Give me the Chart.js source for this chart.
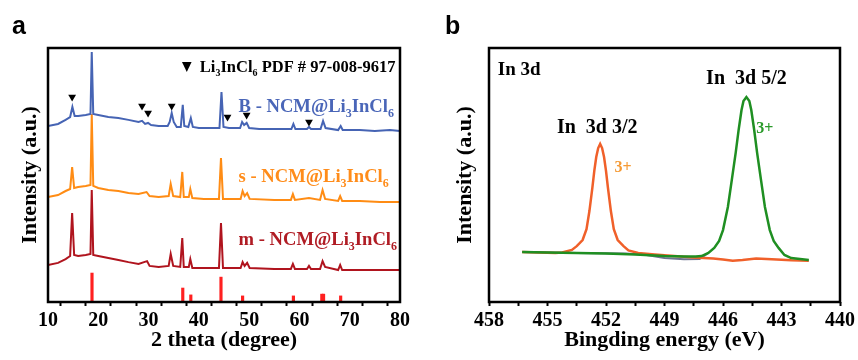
<!DOCTYPE html>
<html>
<head>
<meta charset="utf-8">
<script src="https://cdn.jsdelivr.net/npm/chart.js@4.4.1/dist/chart.umd.min.js"></script>
<style>
    html, body { margin: 0; padding: 0; background: #fff; }
    #wrap { position: relative; width: 858px; height: 360px; overflow: hidden; }
    .panel { position: absolute; top: 0; height: 360px; }
    #pa { left: 0; width: 430px; }
    #pb { left: 430px; width: 428px; }
</style>
</head>
<body>
<div id="wrap">
    <div class="panel" id="pa"><canvas id="xrd"></canvas></div>
    <div class="panel" id="pb"><canvas id="xps"></canvas></div>
</div>
<script>
// ---- panel a: XRD, [2theta (deg), intensity (a.u., stacked offsets)]
const xrdB = [
    [10, 69.3], [12, 70.1], [13.5, 71.7], [14.4, 72.8], [14.85, 76.8], [15.3, 73.2], [16, 73.2],
    [17.5, 73.6], [18.45, 74], [18.7, 98.4], [19, 74], [20, 73.6], [22, 72.8], [24, 72.4],
    [26, 71.7], [28, 70.9], [28.7, 71.3], [29.3, 70.1], [29.9, 70.5], [30.5, 69.7], [32, 69.3],
    [33.8, 69.3], [34.2, 70.9], [34.6, 74.4], [35, 70.9], [35.6, 68.9], [36.4, 68.9], [36.8, 77.6],
    [37.1, 69.3], [37.9, 68.9], [38.4, 72.4], [38.8, 68.9], [40, 68.5], [42, 68.5], [44.1, 68.5],
    [44.5, 82.7], [44.9, 68.9], [46, 68.5], [48.2, 68.5], [48.6, 70.9], [49, 69.7], [49.5, 70.5],
    [50, 68.5], [52, 68.1], [55, 68.1], [58.4, 68.1], [58.8, 70.1], [59.2, 68.1], [61.5, 68.1],
    [61.9, 68.9], [62.3, 68.1], [64.2, 68.1], [64.7, 71.3], [65.2, 68.5], [67.7, 67.7], [68.2, 69.3],
    [68.6, 67.7], [72, 67.7], [75, 67.3], [78, 67.7], [80, 67.3]
]
const xrdS = [
    [10, 41.3], [12, 42.1], [13.5, 43.7], [14.4, 44.5], [14.8, 53.1], [15.2, 44.9], [16, 45.3],
    [17.5, 45.7], [18.45, 46.1], [18.7, 74], [19, 45.7], [20, 44.9], [22, 44.1], [24, 43.7],
    [26, 42.9], [28, 42.5], [29.6, 43.3], [30.2, 41.7], [32, 41.3], [34, 41.7], [34.4, 46.5],
    [34.9, 41.7], [36.3, 41.3], [36.7, 51.2], [37, 41.3], [38, 41.3], [38.3, 44.5], [38.7, 40.9],
    [41, 40.6], [44, 40.6], [44.4, 56.7], [44.8, 40.6], [48.3, 40.6], [48.7, 43.7], [49.1, 41.7],
    [49.6, 42.9], [50.1, 40.6], [55, 40.2], [58.3, 40.2], [58.7, 42.5], [59.1, 40.2], [61.9, 40.9],
    [64.1, 40.2], [64.6, 44.1], [65.1, 40.6], [67.7, 39.8], [68.1, 41.7], [68.5, 39.8], [72, 39.8],
    [76, 39.4], [80, 39.4]
]
const xrdM = [
    [10, 14.6], [12, 15.4], [13.5, 16.9], [14.4, 18.1], [14.8, 35], [15.2, 18.5], [16, 18.1],
    [17.5, 18.5], [18.45, 18.9], [18.7, 44.1], [19, 18.5], [20, 18.1], [22, 17.3], [24, 16.5],
    [26, 15.7], [28, 15], [29.7, 16.1], [30.2, 14.2], [32, 13.8], [34, 14.2], [34.4, 18.9],
    [34.9, 14.2], [36.3, 13.8], [36.7, 25.2], [37, 13.8], [38, 13.8], [38.3, 16.9], [38.7, 13.4],
    [41, 13.4], [44, 13.4], [44.4, 31.1], [44.8, 13.4], [48.3, 13.4], [48.7, 15.7], [49.1, 14.2],
    [49.6, 15.4], [50.1, 13.4], [55, 13], [58.3, 13], [58.7, 15], [59.1, 13], [61.5, 13],
    [61.9, 14.2], [62.3, 13], [64.1, 13], [64.6, 16.1], [65.1, 13.8], [67.7, 12.6], [68.1, 14.6],
    [68.5, 12.6], [72, 12.6], [76, 12.6], [80, 12.6]
]
// reference lines, PDF # 97-008-9617
const refPositions = [18.75, 36.8, 38.4, 44.4, 48.7, 58.8, 64.45, 64.8, 68.2]
const refHeights = [11.4, 5.5, 2.8, 9.8, 2.4, 2.4, 3.1, 3.1, 2.4]
// Li3InCl6 markers
const markerAngles = [14.8, 28.7, 29.9, 34.6, 45.7, 49.5, 61.9]
const markerLevels = [80.7, 77.2, 74.4, 77.2, 72.8, 73.6, 70.9]
const xrdTicks = [10, 20, 30, 40, 50, 60, 70, 80]

// ---- panel b: XPS In 3d, [binding energy (eV), intensity (a.u.)]
const xpsIn52 = [
    [456.3, 19.7], [455, 19.5], [453.5, 19.3], [452, 19.1], [450.5, 18.7], [449, 18.1], [448, 17.9],
    [447.4, 17.9], [447.1, 18.1], [446.75, 19.3], [446.45, 21.3], [446.2, 24], [446, 28.3],
    [445.75, 37.4], [445.55, 48], [445.35, 58.7], [445.2, 67.7], [445.05, 75.6], [444.95, 79.1],
    [444.8, 80.7], [444.65, 79.1], [444.55, 75.6], [444.4, 67.7], [444.25, 58.7], [444.05, 48],
    [443.85, 37.4], [443.6, 28.3], [443.4, 24], [443.15, 21.3], [442.85, 18.5], [442.5, 17.3],
    [441.6, 16.5]
]
const xpsIn32 = [
    [456.3, 19.7], [455.4, 19.5], [454.6, 19.3], [454.25, 19.5], [453.75, 20.5], [453.5, 22],
    [453.2, 24.4], [453, 28.7], [452.85, 35.8], [452.7, 44.9], [452.6, 51.6], [452.5, 57.1],
    [452.4, 60.6], [452.3, 62.2], [452.2, 60.6], [452.1, 57.1], [452, 51.6], [451.9, 44.9],
    [451.75, 35.8], [451.6, 28.7], [451.4, 24.4], [451.1, 22], [450.85, 20.3], [450.35, 19.3],
    [449.5, 18.7], [448.5, 18.1], [447.5, 17.5], [446.5, 17.1], [446, 16.7], [445.5, 16.2],
    [445, 16.5], [444.3, 17.1], [443.5, 16.8], [442.5, 16.4], [441.6, 16.2]
]
const xpsRaw = [
    [456.3, 19.7], [453.5, 19.3], [451, 19.1], [450, 18.6], [449, 17.3], [448, 16.8],
    [447.2, 16.9], [446.75, 19.3]
]
const xpsTicks = [458, 455, 452, 449, 446, 443, 440]

const SERIF = "'Liberation Serif', 'Times New Roman', serif"

function drawRich(ctx, x, y, parts, size, color, align) {
    const fontFor = sub => `bold ${sub ? Math.round(size * 0.62) : size}px ${SERIF}`
    ctx.save()
    ctx.fillStyle = color
    ctx.textAlign = "left"
    ctx.textBaseline = "alphabetic"
    let total = 0
    parts.forEach(([t, sub]) => {
        ctx.font = fontFor(sub)
        total += ctx.measureText(t).width
    })
    let cx = align == "center" ? x - total / 2 : x
    parts.forEach(([t, sub]) => {
        ctx.font = fontFor(sub)
        ctx.fillText(t, cx, y + (sub ? size * 0.26 : 0))
        cx += ctx.measureText(t).width
    })
    ctx.restore()
}

function frame(ctx, a) {
    ctx.save()
    ctx.strokeStyle = "#000"
    ctx.lineWidth = 2.5
    ctx.strokeRect(a.left, a.top, a.right - a.left, a.bottom - a.top)
    ctx.restore()
}

function panelLetter(ctx, letter, x) {
    ctx.save()
    ctx.font = "bold 25px 'Liberation Sans', Arial, sans-serif"
    ctx.fillStyle = "#000"
    ctx.fillText(letter, x, 34)
    ctx.restore()
}

const sample = prefix => [[prefix + " - NCM@Li"], ["3", true], ["InCl"], ["6", true]]

const xrdDecor = {
    id: "xrdDecor",
    afterDraw(chart) {
        const { ctx, chartArea, scales: { x, y } } = chart
        frame(ctx, chartArea)
        panelLetter(ctx, "a", 12)

        const hx = x.getPixelForValue(37.6)
        const hy = y.getPixelForValue(90.6)
        ctx.save()
        ctx.fillStyle = "#000"
        ctx.beginPath()
        ctx.moveTo(hx - 4.8, hy - 10)
        ctx.lineTo(hx + 4.8, hy - 10)
        ctx.lineTo(hx, hy)
        ctx.closePath()
        ctx.fill()
        ctx.restore()
        drawRich(ctx, x.getPixelForValue(40.2), hy,
            [["Li"], ["3", true], ["InCl"], ["6", true], [" PDF # 97-008-9617"]], 16.5, "#000")

        const lx = x.getPixelForValue(47.9)
        drawRich(ctx, lx, y.getPixelForValue(74.8), sample("B"), 18.6, "#4a66b8")
        drawRich(ctx, lx, y.getPixelForValue(47.2), sample("s"), 18.6, "#ff8c1a")
        drawRich(ctx, lx, y.getPixelForValue(22.4), sample("m"), 18.6, "#b01c24")
    },
}

const xpsDecor = {
    id: "xpsDecor",
    afterDraw(chart) {
        const { ctx, chartArea, scales: { x, y } } = chart
        frame(ctx, chartArea)
        panelLetter(ctx, "b", 15)
        drawRich(ctx, x.getPixelForValue(457.55), y.getPixelForValue(89.4), [["In 3d"]], 19, "#000")
        drawRich(ctx, x.getPixelForValue(444.8), y.getPixelForValue(85.8), [["In  3d 5/2"]], 20, "#000", "center")
        drawRich(ctx, x.getPixelForValue(452.45), y.getPixelForValue(66.5), [["In  3d 3/2"]], 20, "#000", "center")
        drawRich(ctx, x.getPixelForValue(451.56), y.getPixelForValue(51.2), [["3+"]], 16, "#f59a35")
        drawRich(ctx, x.getPixelForValue(444.3), y.getPixelForValue(66.5), [["3+"]], 16, "#2a9a2a")
    },
}

function xAxis(min, max, step, ticks, title, reverse) {
    return {
        type: "linear",
        min,
        max,
        reverse,
        offset: false,
        border: { display: false },
        grid: { drawOnChartArea: false, drawTicks: true, tickLength: 4, tickWidth: 2, tickColor: "#000" },
        ticks: {
            stepSize: step,
            autoSkip: false,
            maxRotation: 0,
            padding: 3,
            color: "#000",
            font: { family: SERIF, size: 20, weight: "bold" },
            callback: v => {
                const hit = ticks.find(t => Math.abs(t - v) < 1e-6)
                return hit == null ? "" : String(hit)
            },
        },
        title: {
            display: true,
            text: title,
            color: "#000",
            font: { family: SERIF, size: 22, weight: "bold" },
            padding: { top: 0, bottom: 6 },
        },
        afterFit: scale => { scale.height = 58 },
    }
}

function yAxis(width, titleGap) {
    return {
        type: "linear",
        min: 0,
        max: 100,
        border: { display: false },
        grid: { display: false },
        ticks: { display: false },
        title: {
            display: true,
            text: "Intensity (a.u.)",
            color: "#000",
            font: { family: SERIF, size: 22, weight: "bold" },
            padding: { top: titleGap, bottom: 0 },
        },
        afterFit: scale => { scale.width = width },
    }
}

const line = (data, color, width) => ({
    type: "line",
    data,
    borderColor: color,
    borderWidth: width,
    pointRadius: 0,
    tension: 0,
    fill: false,
})

const baseOptions = {
    responsive: true,
    maintainAspectRatio: false,
    animation: false,
    events: [],
    plugins: { legend: { display: false }, tooltip: { enabled: false } },
}

new Chart(document.getElementById("xrd"), {
    type: "line",
    data: {
        datasets: [
            {
                type: "scatter",
                data: markerAngles.map((a, i) => ({ x: a, y: markerLevels[i] })),
                pointStyle: "triangle",
                rotation: 180,
                pointRadius: 4.5,
                backgroundColor: "#000",
                borderWidth: 0,
            },
            line(xrdB, "#4664b4", 2),
            line(xrdS, "#ff8c14", 2),
            line(xrdM, "#b0141e", 2),
            {
                type: "bar",
                data: refPositions.map((p, i) => ({ x: p, y: refHeights[i] })),
                backgroundColor: "#ff2020",
                barThickness: 2.5,
                grouped: false,
            },
        ],
    },
    options: {
        ...baseOptions,
        layout: { padding: { top: 48, right: 30, left: 0, bottom: 0 } },
        scales: {
            x: xAxis(10, 80, 5, xrdTicks, "2 theta (degree)", false),
            y: yAxis(48, 17),
        },
    },
    plugins: [xrdDecor],
})

new Chart(document.getElementById("xps"), {
    type: "line",
    data: {
        datasets: [
            line(xpsIn52, "#1f8f22", 2.5),
            line(xpsIn32, "#f0602a", 2.5),
            line(xpsRaw, "#6f7390", 2),
        ],
    },
    options: {
        ...baseOptions,
        layout: { padding: { top: 48, right: 17, left: 0, bottom: 0 } },
        scales: {
            x: xAxis(440, 458, 1.5, xpsTicks, "Bingding energy (eV)", true),
            y: yAxis(59, 22),
        },
    },
    plugins: [xpsDecor],
})
</script>
</body>
</html>
